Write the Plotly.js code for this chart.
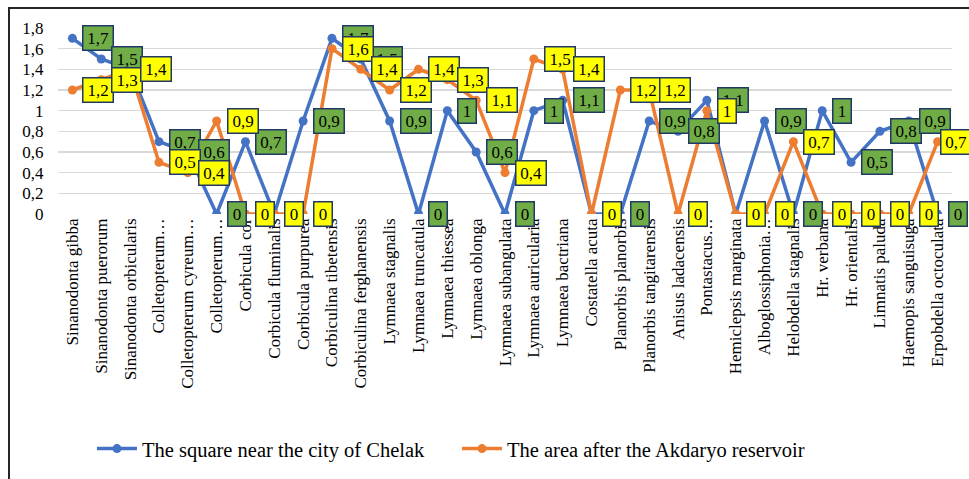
<!DOCTYPE html>
<html>
<head>
<meta charset="utf-8">
<script src="https://cdn.plot.ly/plotly-3.0.1.min.js"></script>
<style>
  html, body { margin: 0; padding: 0; background: #fff; }
  #wrap { position: relative; width: 969px; height: 479px; }
  #chart { position: absolute; left: 0; top: 0; width: 969px; height: 479px; }
  #frame { position: absolute; left: 8px; top: 7px; width: 980px; height: 500px;
           border-top: 2px solid #262626; border-left: 2px solid #262626; pointer-events: none; }
</style>
</head>
<body>
<div id="wrap">
  <div id="chart"></div>
  <div id="frame"></div>
</div>
<script>
const categories = [
  "Sinanodonta gibba", "Sinanodonta puerorum", "Sinanodonta orbicularis",
  "Colletopterum…", "Colletopterum cyreum…", "Colletopterum…",
  "Corbicula cor", "Corbicula fluminalis", "Corbicula purpurea",
  "Corbiculina tibetensis", "Corbiculina ferghanensis", "Lymnaea stagnalis",
  "Lymnaea truncatula", "Lymnaea thiessea", "Lymnaea oblonga",
  "Lymnaea subangulata", "Lymnaea auricularia", "Lymnaea bactriana",
  "Costatella acuta", "Planorbis planorbis", "Planorbis tangitarensis",
  "Anisus ladacensis", "Pontastacus…", "Hemiclepsis marginata",
  "Alboglossiphonia…", "Helobdella stagnalis", "Hr. verbana",
  "Hr. orientalis", "Limnatis paluda", "Haemopis sanguisuga",
  "Erpobdella octoculata"
];

const chelak = [1.7, 1.5, 1.4, 0.7, 0.6, 0, 0.7, 0, 0.9, 1.7, 1.5, 0.9, 0, 1, 0.6, 0,
                1, 1.1, 0, 0, 0.9, 0.8, 1.1, 0, 0.9, 0, 1, 0.5, 0.8, 0.9, 0];
const akdaryo = [1.2, 1.3, 1.4, 0.5, 0.4, 0.9, 0, 0, 0, 1.6, 1.4, 1.2, 1.4, 1.3, 1.1, 0.4,
                 1.5, 1.4, 0, 1.2, 1.2, 0, 1, 0, 0, 0.7, 0, 0, 0, 0, 0.7];

const seriesNames = ["The square near the city of Chelak", "The area after the Akdaryo reservoir"];
const yTicks = [0, 0.2, 0.4, 0.6, 0.8, 1, 1.2, 1.4, 1.6, 1.8];

const xIdx = categories.map((_, i) => i);
const fmt = v => String(v).replace('.', ',');

const serif = "Liberation Serif";

const traces = [
  {
    x: xIdx, y: chelak, name: seriesNames[0], type: 'scatter', mode: 'lines+markers',
    line: { color: '#4472C4', width: 3.5 }, marker: { color: '#4472C4', size: 9 }
  },
  {
    x: xIdx, y: akdaryo, name: seriesNames[1], type: 'scatter', mode: 'lines+markers',
    line: { color: '#ED7D31', width: 3.5 }, marker: { color: '#ED7D31', size: 9 }
  }
];

function makeLabels(vals, bg, lastShift) {
  const n = vals.length;
  return vals.map((v, i) => {
    const t = fmt(v);
    return {
      x: i, y: v, xref: 'x', yref: 'y', text: t, showarrow: false,
      xanchor: 'left', yanchor: 'middle', xshift: i === n - 1 ? lastShift : 10,
      width: t.length === 1 ? 13 : 25,
      bgcolor: bg, bordercolor: '#1F3864', borderwidth: 1.5, borderpad: 2,
      font: { family: serif, size: 17, color: '#000' }
    };
  });
}

const annotations = makeLabels(chelak, '#70AD47', 10).concat(makeLabels(akdaryo, '#FFFF00', 2));

const layout = {
  width: 969, height: 479,
  margin: { l: 58, r: 17, t: 28, b: 264 },
  paper_bgcolor: 'rgba(0,0,0,0)', plot_bgcolor: 'rgba(0,0,0,0)',
  separators: ', ',
  showlegend: true,
  legend: {
    orientation: 'h', x: 0.038, xanchor: 'left', y: -1.25, yanchor: 'middle',
    font: { family: serif, size: 20.5, color: '#000' }, itemwidth: 40,
    entrywidth: 310, entrywidthmode: 'pixels'
  },
  xaxis: {
    range: [-0.5, 30.5], tickmode: 'array', tickvals: xIdx, ticktext: categories,
    tickangle: -90, showgrid: false, zeroline: false, showline: false,
    ticks: '', tickfont: { family: serif, size: 17, color: '#000' }, automargin: false
  },
  yaxis: {
    range: [0, 1.8], tickmode: 'array', tickvals: yTicks, ticktext: yTicks.map(fmt),
    showgrid: true, gridcolor: '#D9D9D9', gridwidth: 1.5, zeroline: false, showline: false,
    ticks: 'outside', ticklen: 10, tickcolor: 'rgba(0,0,0,0)',
    tickfont: { family: serif, size: 17, color: '#000' }, automargin: false
  },
  annotations: annotations
};

Plotly.newPlot('chart', traces, layout, { displayModeBar: false, staticPlot: true });
</script>
</body>
</html>
